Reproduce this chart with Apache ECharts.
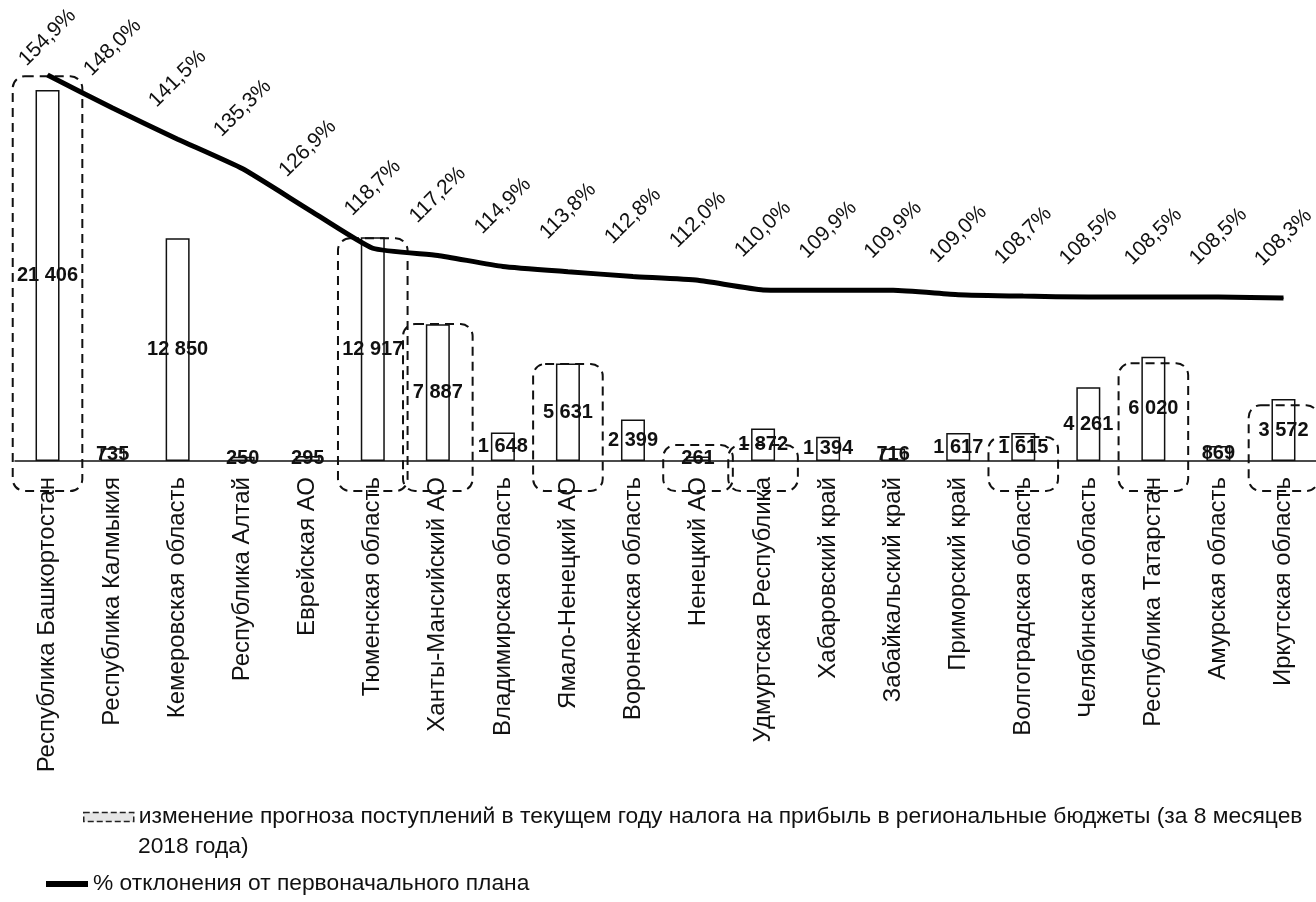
<!DOCTYPE html>
<html lang="ru">
<head>
  <meta charset="UTF-8" />
  <title>Налог на прибыль: изменение прогноза по регионам</title>
  <script src="https://cdn.jsdelivr.net/npm/echarts@6.0.0/dist/echarts.min.js"></script>
  <style>
    html, body { margin: 0; padding: 0; background: #fff; }
  </style>
</head>
<body>
  <div id="main" style="width: 1316px; height: 902px;"></div>

  <script>
    // регионы
    const regions = [
      "Республика Башкортостан", "Республика Калмыкия", "Кемеровская область",
      "Республика Алтай", "Еврейская АО", "Тюменская область", "Ханты-Мансийский АО",
      "Владимирская область", "Ямало-Ненецкий АО", "Воронежская область", "Ненецкий АО",
      "Удмуртская Республика", "Хабаровский край", "Забайкальский край", "Приморский край",
      "Волгоградская область", "Челябинская область", "Республика Татарстан",
      "Амурская область", "Иркутская область"
    ];
    // изменение прогноза поступлений, млн руб.
    const forecastChange = [
      21406, 735, 12850, 250, 295, 12917, 7887, 1648, 5631, 2399,
      261, 1872, 1394, 716, 1617, 1615, 4261, 6020, 869, 3572
    ];
    // % отклонения от первоначального плана
    const deviationPct = [
      154.9, 148.0, 141.5, 135.3, 126.9, 118.7, 117.2, 114.9, 113.8, 112.8,
      112.0, 110.0, 109.9, 109.9, 109.0, 108.7, 108.5, 108.5, 108.5, 108.3
    ];
    // обведённые пунктиром регионы: индекс и верх рамки (в единицах столбцов)
    const boxedIdx = [0, 5, 6, 8, 10, 11, 15, 17, 19];
    const boxedTop = [22200, 12850, 7900, 5600, 920, 920, 1380, 5640, 3220];

    const barName = "изменение прогноза поступлений в текущем году налога на прибыль в региональные бюджеты (за 8 месяцев 2018 года)";
    const barNameLine1 = "изменение прогноза поступлений в текущем году налога на прибыль в региональные бюджеты (за 8 месяцев";
    const barNameLine2 = "2018 года)";
    const lineName = "% отклонения от первоначального плана";
    const font = "Liberation Sans";
    const legendFontSize = 22.8;

    const fmtThousands = (v) => String(v).replace(/\B(?=(\d{3})+(?!\d))/g, " ");
    const fmtPct = (v) => v.toFixed(1).replace(".", ",") + "%";

    const chart = echarts.init(document.getElementById("main"));

    chart.setOption({
      animation: false,
      textStyle: { fontFamily: font },
      // перенос подписи легенды на вторую строку
      title: {
        text: barNameLine2,
        left: 138,
        top: 834,
        padding: 0,
        textStyle: { fontSize: legendFontSize, fontWeight: "normal", color: "#111", fontFamily: font, lineHeight: 26 }
      },
      grid: { left: 15, right: 0, top: 30, bottom: 441, containLabel: false, outerBoundsMode: "none" },
      xAxis: {
        type: "category",
        data: regions,
        axisLine: { lineStyle: { color: "#111", width: 1.5 } },
        axisTick: { show: false },
        axisLabel: { rotate: 90, interval: 0, fontSize: 24, color: "#111", margin: 16, fontFamily: font }
      },
      yAxis: [
        { type: "value", min: 0, max: 24870, show: false },
        { type: "value", min: 74.24, max: 164.31, show: false }
      ],
      legend: [
        {
          data: [barName],
          formatter: () => barNameLine1,
          left: 83,
          top: 804,
          padding: 0,
          icon: "rect",
          itemWidth: 50,
          itemHeight: 9,
          itemStyle: { color: "#e6e6e6", borderColor: "#222", borderWidth: 1.5, borderType: "dashed" },
          textStyle: { fontSize: legendFontSize, color: "#111", fontFamily: font, lineHeight: 26 },
          selectedMode: false
        },
        {
          data: [lineName],
          left: 46,
          top: 871,
          padding: 0,
          icon: "rect",
          itemWidth: 42,
          itemHeight: 6,
          itemStyle: { color: "#000" },
          textStyle: { fontSize: legendFontSize, color: "#111", fontFamily: font, lineHeight: 26 },
          selectedMode: false
        }
      ],
      series: [
        {
          name: barName,
          type: "bar",
          data: forecastChange,
          barWidth: 24,
          itemStyle: { color: "#fff", borderColor: "#111", borderWidth: 1.5 },
          label: {
            show: true,
            position: "inside",
            fontSize: 20,
            fontWeight: "bold",
            color: "#111",
            fontFamily: font,
            formatter: (p) => fmtThousands(p.value)
          },
          z: 2
        },
        {
          name: lineName,
          type: "line",
          yAxisIndex: 1,
          // первая подпись прижата ближе к линии, чтобы не выйти за край
          data: deviationPct.map((v, i) => (i === 0 ? { value: v, label: { distance: 37 } } : v)),
          smooth: 0.15,
          symbol: "circle",
          symbolSize: 1,
          showSymbol: true,
          itemStyle: { color: "#000" },
          lineStyle: { color: "#000", width: 5 },
          label: {
            show: true,
            position: "top",
            distance: 60,
            rotate: 45,
            align: "center",
            verticalAlign: "middle",
            fontSize: 21,
            color: "#111",
            fontFamily: font,
            formatter: (p) => fmtPct(p.value)
          },
          z: 4
        },
        {
          name: "рамки",
          type: "custom",
          data: boxedIdx.map((i, k) => [i, boxedTop[k]]),
          renderItem: (params, api) => {
            const top = api.coord([api.value(0), api.value(1)]);
            const base = api.coord([api.value(0), 0]);
            const w = api.size([1, 0])[0] * 1.07;
            return {
              type: "rect",
              shape: { x: top[0] - w / 2, y: top[1], width: w, height: base[1] - top[1] + 30, r: 12 },
              style: { fill: "none", stroke: "#111", lineWidth: 2, lineDash: [9, 6] }
            };
          },
          silent: true,
          z: 3
        }
      ]
    });
  </script>
</body>
</html>
